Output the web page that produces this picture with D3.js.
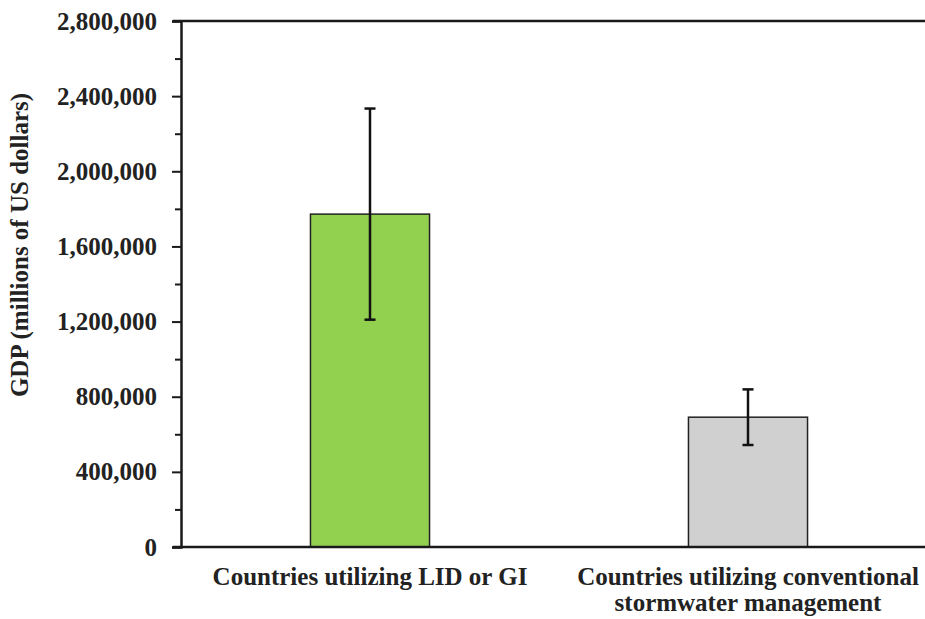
<!DOCTYPE html>
<html><head><meta charset="utf-8">
<script src="https://cdn.jsdelivr.net/npm/d3@7"></script>
<style>body{margin:0;background:#fff}svg{display:block}svg text{font-family:'Liberation Serif',serif !important;font-weight:700;fill:#222}</style>
</head><body><svg id="c" width="925" height="619"></svg>
<script>
const categories = ["Countries utilizing LID or GI", "Countries utilizing conventional stormwater management"];
const categoryLines = [["Countries utilizing LID or GI"], ["Countries utilizing conventional", "stormwater management"]];
const values = [1772000, 691000];
const errors = [562000, 148000];
const colors = ["#92d050", "#d0d0d0"];
const yTicks = [0, 400000, 800000, 1200000, 1600000, 2000000, 2400000, 2800000];
const yMinorTicks = [200000, 600000, 1000000, 1400000, 1800000, 2200000, 2600000];
const yTitle = "GDP (millions of US dollars)";

(function () {
const svg = d3.select("#c");
const pL = 181, pR = 937, pT = 21, pB = 547;
const y = d3.scaleLinear().domain([0, 2800000]).range([pB, pT]);
const x = d3.scaleBand().domain(categories).range([pL, pR]).padding(0);
const bw = x.bandwidth() * 0.315;
const fmt = d3.format(",");
const FS = 25;

svg.append("line").attr("x1", pL - 8).attr("x2", 925).attr("y1", y(2800000)).attr("y2", y(2800000))
  .attr("stroke", "#1a1a1a").attr("stroke-width", 2.5);

svg.selectAll("rect.bar").data(categories).join("rect").attr("class", "bar")
  .attr("x", d => x(d) + x.bandwidth() / 2 - bw / 2)
  .attr("width", bw)
  .attr("y", (d, i) => y(values[i]))
  .attr("height", (d, i) => y(0) - y(values[i]))
  .attr("fill", (d, i) => colors[i])
  .attr("stroke", "#222").attr("stroke-width", 1.5);

const eg = svg.selectAll("g.err").data(categories).join("g").attr("class", "err");
eg.append("line")
  .attr("x1", d => x(d) + x.bandwidth() / 2).attr("x2", d => x(d) + x.bandwidth() / 2)
  .attr("y1", (d, i) => y(values[i] + errors[i])).attr("y2", (d, i) => y(values[i] - errors[i]))
  .attr("stroke", "#111").attr("stroke-width", 2.5);
[1, -1].forEach(s => {
  eg.append("line")
    .attr("x1", d => x(d) + x.bandwidth() / 2 - 5.5).attr("x2", d => x(d) + x.bandwidth() / 2 + 5.5)
    .attr("y1", (d, i) => y(values[i] + s * errors[i])).attr("y2", (d, i) => y(values[i] + s * errors[i]))
    .attr("stroke", "#111").attr("stroke-width", 2.5);
});

const ya = svg.append("g").attr("transform", `translate(${pL},0)`)
  .call(d3.axisLeft(y).tickValues(yTicks).tickFormat(fmt).tickSize(9).tickPadding(15));
ya.attr("font-family", null).attr("font-size", null);
ya.select(".domain").attr("stroke", "#1a1a1a").attr("stroke-width", 2.5);
ya.selectAll(".tick line").attr("stroke", "#1a1a1a").attr("stroke-width", 2);
ya.selectAll(".tick text").style("font-size", FS + "px").attr("fill", "#222");
const ym = svg.append("g").attr("transform", `translate(${pL},0)`)
  .call(d3.axisLeft(y).tickValues(yMinorTicks).tickFormat("").tickSize(6));
ym.select(".domain").remove();
ym.selectAll(".tick line").attr("stroke", "#1a1a1a").attr("stroke-width", 2);

svg.append("line").attr("x1", pL - 8).attr("x2", 925).attr("y1", y(0)).attr("y2", y(0))
  .attr("stroke", "#1a1a1a").attr("stroke-width", 2.5);

categories.forEach((c, i) => {
  const cx = x(c) + x.bandwidth() / 2;
  const t = svg.append("text").attr("text-anchor", "middle").style("font-size", FS + "px")
    .attr("x", cx).attr("y", 585);
  categoryLines[i].forEach((ln, j) => t.append("tspan").attr("x", cx).attr("dy", j === 0 ? 0 : 26).text(ln));
});

svg.append("text").attr("text-anchor", "middle").style("font-size", FS + "px")
  .attr("transform", `translate(28,245) rotate(-90)`).text(yTitle);
})();
</script></body></html>
